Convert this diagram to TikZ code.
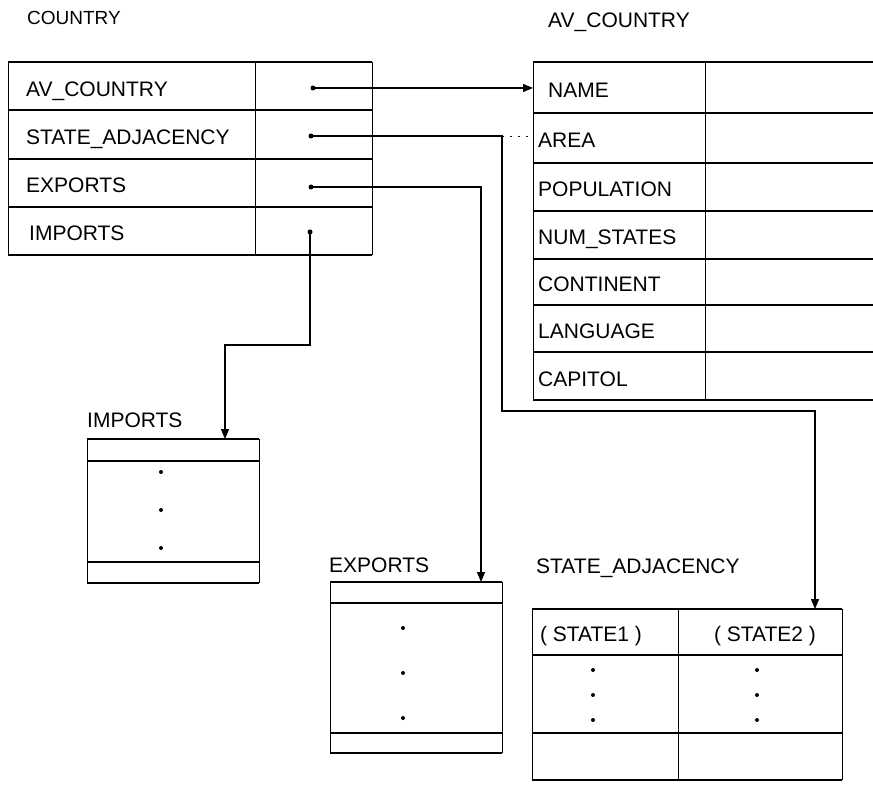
\documentclass[tikz,border=0pt]{standalone}
\usepackage{fontspec}
\setmainfont{Liberation Sans}
\usetikzlibrary{arrows.meta}
\begin{document}
\begin{tikzpicture}[x=1pt,y=-1pt,
  hline/.style={line width=2.2pt},
  vline/.style={line width=0.9pt},
  lbl/.style={anchor=base west,inner sep=0pt,font=\fontsize{21}{24}\selectfont},
  clbl/.style={anchor=base,inner sep=0pt,font=\fontsize{21}{24}\selectfont},
  conn/.style={line width=1.2pt},
  arr/.style={conn,-{Triangle[length=10pt,width=8pt]}},
  ptrdot/.style={circle,fill,inner sep=0pt,minimum size=5pt},
  edot/.style={circle,fill,inner sep=0pt,minimum size=4pt}]
\useasboundingbox (0,0) rectangle (873,786);

% ---------- COUNTRY table ----------
\node[lbl,font=\fontsize{19}{22}\selectfont] (tCountry) at (27,25) {COUNTRY};
\foreach \y in {62,110,159,207,255} \draw[hline] (8,\y) -- (372,\y);
\foreach \x in {8,255,372} \draw[vline] (\x,62) -- (\x,255);
\node[lbl] (cAV) at (26,97) {AV\_COUNTRY};
\node[lbl] (cSA) at (26,145) {STATE\_ADJACENCY};
\node[lbl] (cEX) at (26,193) {EXPORTS};
\node[lbl] (cIM) at (29,241) {IMPORTS};
\node[ptrdot] (dAV) at (313,88) {};
\node[ptrdot] (dSA) at (311,136) {};
\node[ptrdot] (dEX) at (311,187) {};
\node[ptrdot] (dIM) at (310,232) {};

% ---------- AV_COUNTRY table ----------
\node[lbl] (tAV) at (548,28) {AV\_COUNTRY};
\foreach \y in {62,113,163,211,259,305,352,400} \draw[hline] (533,\y) -- (873,\y);
\foreach \x in {533,705} \draw[vline] (\x,62) -- (\x,400);
\node[lbl] (aName) at (548,98) {NAME};
\node[lbl] (aArea) at (538,148) {AREA};
\node[lbl] (aPop) at (538,197) {POPULATION};
\node[lbl] (aNum) at (538,245) {NUM\_STATES};
\node[lbl] (aCont) at (538,292) {CONTINENT};
\node[lbl] (aLang) at (538,339) {LANGUAGE};
\node[lbl] (aCap) at (538,386) {CAPITOL};

% ---------- IMPORTS table ----------
\node[lbl] (tIM) at (87,427) {IMPORTS};
\foreach \y in {439,461,562,583} \draw[hline] (87,\y) -- (259,\y);
\foreach \x in {87,259} \draw[vline] (\x,439) -- (\x,583);
\foreach \y/\n in {472/a,510/b,548/c} \node[edot] (imdot\n) at (161,\y) {};

% ---------- EXPORTS table ----------
\node[lbl] (tEX) at (329,572) {EXPORTS};
\foreach \y in {582,603,733,753} \draw[hline] (330,\y) -- (502,\y);
\foreach \x in {330,502} \draw[vline] (\x,582) -- (\x,753);
\foreach \y/\n in {628/a,673/b,718/c} \node[edot] (exdot\n) at (403,\y) {};

% ---------- STATE_ADJACENCY table ----------
\node[lbl] (tSA) at (536,573) {STATE\_ADJACENCY};
\foreach \y in {609,655,733,780} \draw[hline] (532,\y) -- (842,\y);
\foreach \x in {532,678,842} \draw[vline] (\x,609) -- (\x,780);
\node[clbl] (s1) at (591,641) {( STATE1 )};
\node[clbl] (s2) at (765,641) {( STATE2 )};
\foreach \y/\n in {670/a,695/b,720/c} {
  \node[edot] (s1dot\n) at (593,\y) {};
  \node[edot] (s2dot\n) at (757,\y) {};
}

% ---------- connector end points ----------
\coordinate (avIn) at (533,88);
\coordinate (saB1) at (502,136);
\coordinate (saDot) at (533,136);
\coordinate (saB2) at (502,411);
\coordinate (saB3) at (815,411);
\coordinate (saIn) at (815,609);
\coordinate (exB1) at (481,187);
\coordinate (exIn) at (481,582);
\coordinate (imB1) at (310,345);
\coordinate (imB2) at (225,345);
\coordinate (imIn) at (225,439);

% ---------- connectors ----------
\draw[arr] (dAV.center) -- (avIn);
\draw[arr] (dSA.center) -- (saB1) -- (saB2) -- (saB3) -- (saIn);
\draw[line width=0.8pt, dash pattern=on 2pt off 6pt] (saB1) -- (saDot);
\draw[arr] (dEX.center) -- (exB1) -- (exIn);
\draw[arr] (dIM.center) -- (imB1) -- (imB2) -- (imIn);
\end{tikzpicture}
\end{document}
